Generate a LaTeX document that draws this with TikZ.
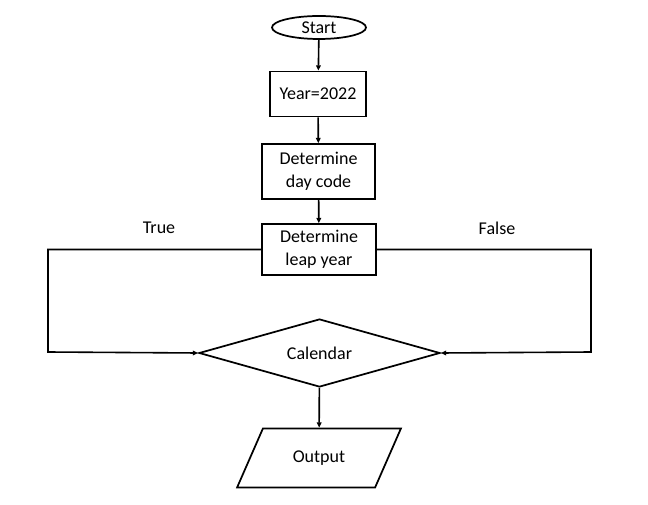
\documentclass[tikz,border=0pt]{standalone}
\usepackage{fontspec}
\setmainfont{Carlito}
\usetikzlibrary{shapes.geometric,arrows.meta}

\begin{document}
\begin{tikzpicture}[x = 0.75pt, y = -0.75pt,
    every node/.style = {font = \fontsize{13.5}{17}\selectfont},
    box/.style = {rectangle, draw, line width = 1.3pt, align = center},
    flow/.style = {line width = 1.2pt, -{Triangle[length = 4pt, width = 3.5pt]}}]

\useasboundingbox (0, 0) rectangle (648, 505);

%%% Steps
\node [ellipse, draw, line width = 1.3pt, minimum width = 70.5pt, minimum height = 17.25pt, inner sep = 0pt] (start) at (319, 27.5) {Start};

\node [box, minimum width = 72pt, minimum height = 33.75pt] (year) at (318, 94) {Year=2022};

\node [box, minimum width = 84.75pt, minimum height = 41.25pt] (daycode) at (318.5, 171.5) {Determine\\day code};

\node [box, minimum width = 85.5pt, minimum height = 38.25pt] (leap) at (319, 249.5) {Determine\\leap year};

%%% Decision and output
\node [diamond, aspect = 3.5, draw, line width = 1.3pt, minimum width = 180.75pt, minimum height = 51pt, inner sep = 0pt] (cal) at (319.5, 353) {Calendar};

\node [trapezium, trapezium left angle = 59, trapezium right angle = 121, trapezium stretches = true, draw, line width = 1.3pt, minimum width = 123pt, minimum height = 44.25pt] (out) at (319, 458) {Output};

%%% Branch labels
\node (true) at (159, 228) {True};
\node (false) at (497, 228) {False};

\coordinate (bl) at (48, 352);
\coordinate (br) at (591, 352);

%%% Connectors
\draw[flow] (start) -- (year);
\draw[flow] (year) -- (daycode);
\draw[flow] (daycode) -- (leap);
\draw[flow] (leap.west) -| (bl) -- (cal.west);
\draw[flow] (leap.east) -| (br) -- (cal.east);
\draw[flow] (cal) -- (out);

\end{tikzpicture}
\end{document}
